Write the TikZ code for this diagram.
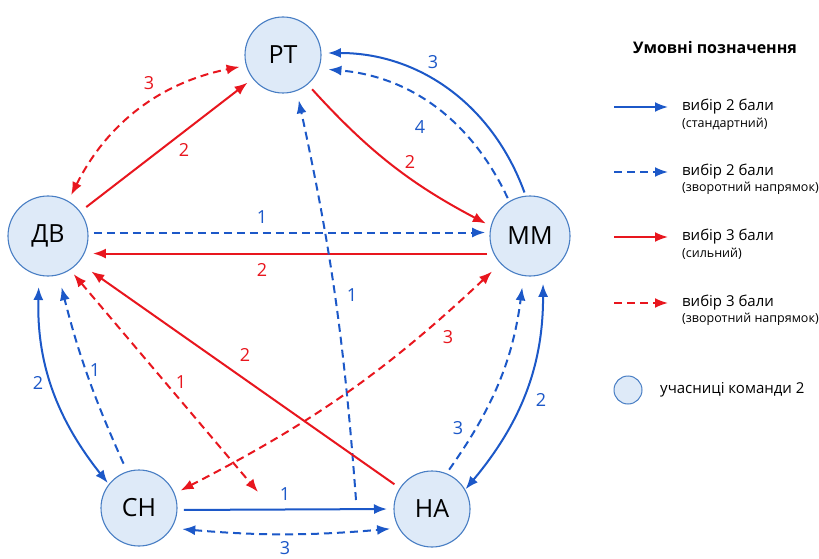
\documentclass[tikz,border=0pt]{standalone}
\usepackage{fontspec}
\setmainfont{Open Sans}
\usetikzlibrary{arrows.meta}

\definecolor{chblue}{RGB}{28,88,200}
\definecolor{chred}{RGB}{232,22,30}
\definecolor{nodefill}{RGB}{222,234,248}
\definecolor{nodeline}{RGB}{72,126,196}

\begin{document}
\begin{tikzpicture}[x=1pt,y=1pt,
  member/.style={draw=nodeline, fill=nodefill, circle, line width=1.1pt, minimum size=76pt, inner sep=0pt, outer sep=0pt, font=\fontsize{25}{25}\selectfont},
  bigmember/.style={member, minimum size=80pt},
  oneway/.style={-{Latex[length=13pt,width=10pt]}},
  twoway/.style={{Latex[length=13pt,width=10pt]}-{Latex[length=13pt,width=10pt]}},
  two/.style={chblue, line width=2pt},
  three/.style={chred, line width=2pt},
  rev/.style={dash pattern=on 8pt off 5pt},
  lbl/.style={font=\fontsize{18}{18}\selectfont, inner sep=0pt},
  legtext/.style={font=\fontsize{15}{15}\selectfont, anchor=west, inner sep=0pt},
  legsub/.style={font=\fontsize{12.5}{12.5}\selectfont, anchor=west, inner sep=0pt},
]
\useasboundingbox[fill=white] (0,0) rectangle (819,558);

\node[member] (rt) at (283,503) {РТ};
\node[bigmember] (dv) at (48,322) {ДВ};
\node[bigmember] (mm) at (530,322) {ММ};
\node[member] (sn) at (139,50) {СН};
\node[member] (na) at (432,49) {НА};

\coordinate (natop) at (356,58);
\coordinate (mid) at (258,66);

\draw[two, oneway, shorten <=4pt, shorten >=7pt] (mm.96) to[bend right=35] (rt.3);
\draw[two, rev, oneway, shorten <=4pt, shorten >=10pt] (mm.121) to[bend right=30] (rt.-21);
\draw[three, oneway, shorten <=7pt, shorten >=6pt] (rt.-50) to[bend right=10] (mm.166);
\draw[three, rev, twoway, shorten <=7pt, shorten >=7pt] (dv.60) to[bend left=26] (rt.196);
\draw[three, oneway, shorten <=8pt, shorten >=7pt] (dv.37) -- (rt.218);
\draw[two, rev, oneway, shorten <=6pt, shorten >=5pt] (dv.5) -- (mm.175);
\draw[three, oneway, shorten <=7pt, shorten >=9pt] (mm.206) -- (dv.-26);
\draw[two, rev, oneway, shorten >=10pt] (natop) to[bend right=4] (rt.-69);
\draw[three, oneway, shorten <=7pt, shorten >=16pt] (na.147) -- (dv.-41);
\draw[three, rev, twoway, shorten <=12pt, shorten >=7pt] (mm.223) to[bend left=8] (sn.22);
\draw[three, rev, twoway, shorten <=6pt] (dv.-57) -- (mid);
\draw[two, rev, oneway, shorten <=9pt, shorten >=13pt] (sn.108) to[bend left=5] (dv.-75);
\draw[two, twoway, shorten <=12pt, shorten >=2pt] (dv.257) to[bend right=20] (sn.142);
\draw[two, oneway, shorten <=7pt, shorten >=7pt] (sn.-3) -- (na.180);
\draw[two, rev, twoway, shorten <=11pt, shorten >=9pt] (sn.-32) to[bend right=5] (na.210);
\draw[two, rev, oneway, shorten <=5pt, shorten >=12pt] (na.68) to[bend right=14] (mm.261);
\draw[two, twoway, shorten <=10pt, shorten >=1pt] (mm.-71) to[bend left=20] (na.30);

% points
\node[lbl, text=chblue] (l1) at (433,496) {3};
\node[lbl, text=chblue] (l2) at (420,431) {4};
\node[lbl, text=chred] (l3) at (410,396) {2};
\node[lbl, text=chred] (l4) at (149,475) {3};
\node[lbl, text=chred] (l5) at (184,408) {2};
\node[lbl, text=chblue] (l6) at (262,341) {1};
\node[lbl, text=chred] (l7) at (262,288) {2};
\node[lbl, text=chblue] (l8) at (352,263) {1};
\node[lbl, text=chred] (l9) at (245,203) {2};
\node[lbl, text=chred] (l10) at (448,221) {3};
\node[lbl, text=chred] (l11) at (181,176) {1};
\node[lbl, text=chblue] (l12) at (95,188) {1};
\node[lbl, text=chblue] (l13) at (38,175) {2};
\node[lbl, text=chblue] (l14) at (285,64) {1};
\node[lbl, text=chblue] (l15) at (285,10) {3};
\node[lbl, text=chblue] (l16) at (458,130) {3};
\node[lbl, text=chblue] (l17) at (541,158) {2};

% legend
\node[font=\bfseries\fontsize{16}{16}\selectfont] (title) at (715,510) {Умовні позначення};

\coordinate (k1a) at (614,451); \coordinate (k1b) at (668,451);
\coordinate (k2a) at (614,386); \coordinate (k2b) at (668,386);
\coordinate (k3a) at (614,321); \coordinate (k3b) at (668,321);
\coordinate (k4a) at (614,255); \coordinate (k4b) at (668,255);
\draw[two, oneway] (k1a) -- (k1b);
\draw[two, rev, oneway] (k2a) -- (k2b);
\draw[three, oneway] (k3a) -- (k3b);
\draw[three, rev, oneway] (k4a) -- (k4b);

\node[legtext] (k1t) at (682,451) {вибір 2 бали};
\node[legsub] (k1s) at (682,434) {(стандартний)};
\node[legtext] (k2t) at (682,386) {вибір 2 бали};
\node[legsub] (k2s) at (682,370) {(зворотний напрямок)};
\node[legtext] (k3t) at (682,321) {вибір 3 бали};
\node[legsub] (k3s) at (682,304) {(сильний)};
\node[legtext] (k4t) at (682,255) {вибір 3 бали};
\node[legsub] (k4s) at (682,239) {(зворотний напрямок)};

\node[member, minimum size=28pt, line width=1pt] (keyc) at (628,168) {};
\node[legtext] (keyt) at (660,168) {учасниці команди 2};
\end{tikzpicture}
\end{document}
